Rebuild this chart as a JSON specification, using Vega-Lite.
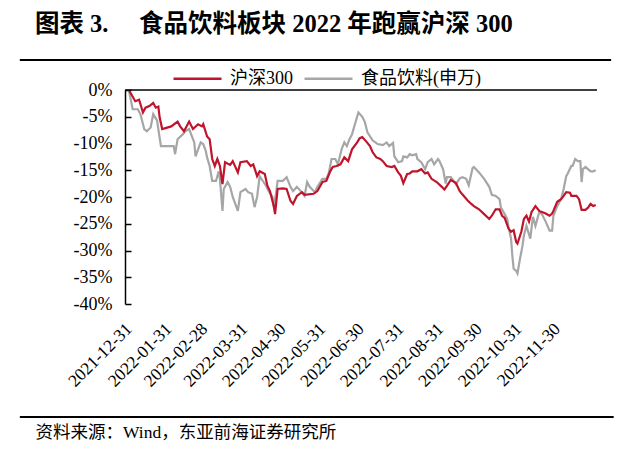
{
  "$schema": "https://vega.github.io/schema/vega-lite/v6.json",
  "width": 472,
  "height": 214,
  "autosize": {"type": "none"},
  "padding": {"left": 125, "top": 90, "right": 43, "bottom": 152},
  "background": "white",
  "config": {
    "view": {"stroke": null},
    "font": "Liberation Serif, Noto Sans CJK SC"
  },
  "title": {
    "text": "图表 3. 　食品饮料板块 2022 年跑赢沪深 300",
    "anchor": "start",
    "frame": "group",
    "dx": -90,
    "fontSize": 24.5,
    "fontWeight": "bold",
    "font": "Liberation Serif, Noto Sans CJK SC",
    "color": "black",
    "offset": 16
  },
  "resolve": {"axis": {"x": "independent", "y": "independent"}},
  "datasets": {
    "series": [
      {"d": "2021-12-31", "s": "食品饮料(申万)", "v": 0},
      {"d": "2022-01-03", "s": "食品饮料(申万)", "v": -3.6},
      {"d": "2022-01-07", "s": "食品饮料(申万)", "v": -3.6},
      {"d": "2022-01-09", "s": "食品饮料(申万)", "v": -4.5},
      {"d": "2022-01-12", "s": "食品饮料(申万)", "v": -7.3},
      {"d": "2022-01-14", "s": "食品饮料(申万)", "v": -7.7},
      {"d": "2022-01-17", "s": "食品饮料(申万)", "v": -7.0},
      {"d": "2022-01-19", "s": "食品饮料(申万)", "v": -4.5},
      {"d": "2022-01-22", "s": "食品饮料(申万)", "v": -5.7},
      {"d": "2022-01-23", "s": "食品饮料(申万)", "v": -7.3},
      {"d": "2022-01-25", "s": "食品饮料(申万)", "v": -10.5},
      {"d": "2022-01-30", "s": "食品饮料(申万)", "v": -10.5},
      {"d": "2022-02-04", "s": "食品饮料(申万)", "v": -10.5},
      {"d": "2022-02-05", "s": "食品饮料(申万)", "v": -12.0},
      {"d": "2022-02-07", "s": "食品饮料(申万)", "v": -9.2},
      {"d": "2022-02-11", "s": "食品饮料(申万)", "v": -8.3},
      {"d": "2022-02-13", "s": "食品饮料(申万)", "v": -7.7},
      {"d": "2022-02-16", "s": "食品饮料(申万)", "v": -7.3},
      {"d": "2022-02-19", "s": "食品饮料(申万)", "v": -9.2},
      {"d": "2022-02-20", "s": "食品饮料(申万)", "v": -9.8},
      {"d": "2022-02-21", "s": "食品饮料(申万)", "v": -12.4},
      {"d": "2022-02-23", "s": "食品饮料(申万)", "v": -11.1},
      {"d": "2022-02-25", "s": "食品饮料(申万)", "v": -9.8},
      {"d": "2022-02-27", "s": "食品饮料(申万)", "v": -10.1},
      {"d": "2022-03-01", "s": "食品饮料(申万)", "v": -11.4},
      {"d": "2022-03-02", "s": "食品饮料(申万)", "v": -12.6},
      {"d": "2022-03-04", "s": "食品饮料(申万)", "v": -14.2},
      {"d": "2022-03-06", "s": "食品饮料(申万)", "v": -17.0},
      {"d": "2022-03-09", "s": "食品饮料(申万)", "v": -17.0},
      {"d": "2022-03-11", "s": "食品饮料(申万)", "v": -15.2},
      {"d": "2022-03-12", "s": "食品饮料(申万)", "v": -16.6},
      {"d": "2022-03-14", "s": "食品饮料(申万)", "v": -22.6},
      {"d": "2022-03-15", "s": "食品饮料(申万)", "v": -18.5},
      {"d": "2022-03-18", "s": "食品饮料(申万)", "v": -17.2},
      {"d": "2022-03-20", "s": "食品饮料(申万)", "v": -18.1},
      {"d": "2022-03-22", "s": "食品饮料(申万)", "v": -20.0},
      {"d": "2022-03-26", "s": "食品饮料(申万)", "v": -22.6},
      {"d": "2022-03-28", "s": "食品饮料(申万)", "v": -19.1},
      {"d": "2022-04-01", "s": "食品饮料(申万)", "v": -18.5},
      {"d": "2022-04-03", "s": "食品饮料(申万)", "v": -19.1},
      {"d": "2022-04-06", "s": "食品饮料(申万)", "v": -19.4},
      {"d": "2022-04-08", "s": "食品饮料(申万)", "v": -21.9},
      {"d": "2022-04-10", "s": "食品饮料(申万)", "v": -20.0},
      {"d": "2022-04-12", "s": "食品饮料(申万)", "v": -16.1},
      {"d": "2022-04-15", "s": "食品饮料(申万)", "v": -17.2},
      {"d": "2022-04-17", "s": "食品饮料(申万)", "v": -17.9},
      {"d": "2022-04-19", "s": "食品饮料(申万)", "v": -18.9},
      {"d": "2022-04-22", "s": "食品饮料(申万)", "v": -20.0},
      {"d": "2022-04-23", "s": "食品饮料(申万)", "v": -21.9},
      {"d": "2022-04-25", "s": "食品饮料(申万)", "v": -18.9},
      {"d": "2022-04-26", "s": "食品饮料(申万)", "v": -17.0},
      {"d": "2022-04-30", "s": "食品饮料(申万)", "v": -17.0},
      {"d": "2022-05-03", "s": "食品饮料(申万)", "v": -16.3},
      {"d": "2022-05-06", "s": "食品饮料(申万)", "v": -18.1},
      {"d": "2022-05-08", "s": "食品饮料(申万)", "v": -18.9},
      {"d": "2022-05-11", "s": "食品饮料(申万)", "v": -18.1},
      {"d": "2022-05-14", "s": "食品饮料(申万)", "v": -18.9},
      {"d": "2022-05-17", "s": "食品饮料(申万)", "v": -19.8},
      {"d": "2022-05-19", "s": "食品饮料(申万)", "v": -17.2},
      {"d": "2022-05-21", "s": "食品饮料(申万)", "v": -18.1},
      {"d": "2022-05-25", "s": "食品饮料(申万)", "v": -19.1},
      {"d": "2022-05-27", "s": "食品饮料(申万)", "v": -18.1},
      {"d": "2022-05-31", "s": "食品饮料(申万)", "v": -16.6},
      {"d": "2022-06-03", "s": "食品饮料(申万)", "v": -16.6},
      {"d": "2022-06-05", "s": "食品饮料(申万)", "v": -15.4},
      {"d": "2022-06-07", "s": "食品饮料(申万)", "v": -12.9},
      {"d": "2022-06-10", "s": "食品饮料(申万)", "v": -12.9},
      {"d": "2022-06-12", "s": "食品饮料(申万)", "v": -13.9},
      {"d": "2022-06-15", "s": "食品饮料(申万)", "v": -11.0},
      {"d": "2022-06-17", "s": "食品饮料(申万)", "v": -9.8},
      {"d": "2022-06-19", "s": "食品饮料(申万)", "v": -10.5},
      {"d": "2022-06-21", "s": "食品饮料(申万)", "v": -9.2},
      {"d": "2022-06-23", "s": "食品饮料(申万)", "v": -8.3},
      {"d": "2022-06-25", "s": "食品饮料(申万)", "v": -6.6},
      {"d": "2022-06-28", "s": "食品饮料(申万)", "v": -4.2},
      {"d": "2022-07-01", "s": "食品饮料(申万)", "v": -5.0},
      {"d": "2022-07-03", "s": "食品饮料(申万)", "v": -6.0},
      {"d": "2022-07-05", "s": "食品饮料(申万)", "v": -7.9},
      {"d": "2022-07-09", "s": "食品饮料(申万)", "v": -9.4},
      {"d": "2022-07-13", "s": "食品饮料(申万)", "v": -10.1},
      {"d": "2022-07-17", "s": "食品饮料(申万)", "v": -10.3},
      {"d": "2022-07-20", "s": "食品饮料(申万)", "v": -9.8},
      {"d": "2022-07-22", "s": "食品饮料(申万)", "v": -10.5},
      {"d": "2022-07-25", "s": "食品饮料(申万)", "v": -9.9},
      {"d": "2022-07-26", "s": "食品饮料(申万)", "v": -12.4},
      {"d": "2022-07-29", "s": "食品饮料(申万)", "v": -13.5},
      {"d": "2022-08-01", "s": "食品饮料(申万)", "v": -13.3},
      {"d": "2022-08-02", "s": "食品饮料(申万)", "v": -12.4},
      {"d": "2022-08-05", "s": "食品饮料(申万)", "v": -12.6},
      {"d": "2022-08-07", "s": "食品饮料(申万)", "v": -12.0},
      {"d": "2022-08-09", "s": "食品饮料(申万)", "v": -12.2},
      {"d": "2022-08-12", "s": "食品饮料(申万)", "v": -12.0},
      {"d": "2022-08-13", "s": "食品饮料(申万)", "v": -12.9},
      {"d": "2022-08-16", "s": "食品饮料(申万)", "v": -13.5},
      {"d": "2022-08-19", "s": "食品饮料(申万)", "v": -14.8},
      {"d": "2022-08-21", "s": "食品饮料(申万)", "v": -13.5},
      {"d": "2022-08-24", "s": "食品饮料(申万)", "v": -12.9},
      {"d": "2022-08-26", "s": "食品饮料(申万)", "v": -13.9},
      {"d": "2022-08-29", "s": "食品饮料(申万)", "v": -12.9},
      {"d": "2022-08-30", "s": "食品饮料(申万)", "v": -13.2},
      {"d": "2022-09-02", "s": "食品饮料(申万)", "v": -14.8},
      {"d": "2022-09-04", "s": "食品饮料(申万)", "v": -17.5},
      {"d": "2022-09-05", "s": "食品饮料(申万)", "v": -16.3},
      {"d": "2022-09-08", "s": "食品饮料(申万)", "v": -16.3},
      {"d": "2022-09-11", "s": "食品饮料(申万)", "v": -17.2},
      {"d": "2022-09-12", "s": "食品饮料(申万)", "v": -17.6},
      {"d": "2022-09-15", "s": "食品饮料(申万)", "v": -16.5},
      {"d": "2022-09-17", "s": "食品饮料(申万)", "v": -16.3},
      {"d": "2022-09-20", "s": "食品饮料(申万)", "v": -16.6},
      {"d": "2022-09-22", "s": "食品饮料(申万)", "v": -17.8},
      {"d": "2022-09-25", "s": "食品饮料(申万)", "v": -14.6},
      {"d": "2022-09-26", "s": "食品饮料(申万)", "v": -14.4},
      {"d": "2022-09-30", "s": "食品饮料(申万)", "v": -15.4},
      {"d": "2022-10-04", "s": "食品饮料(申万)", "v": -16.6},
      {"d": "2022-10-08", "s": "食品饮料(申万)", "v": -18.1},
      {"d": "2022-10-10", "s": "食品饮料(申万)", "v": -19.6},
      {"d": "2022-10-13", "s": "食品饮料(申万)", "v": -19.8},
      {"d": "2022-10-16", "s": "食品饮料(申万)", "v": -20.4},
      {"d": "2022-10-17", "s": "食品饮料(申万)", "v": -21.9},
      {"d": "2022-10-20", "s": "食品饮料(申万)", "v": -23.2},
      {"d": "2022-10-22", "s": "食品饮料(申万)", "v": -24.1},
      {"d": "2022-10-23", "s": "食品饮料(申万)", "v": -25.6},
      {"d": "2022-10-25", "s": "食品饮料(申万)", "v": -27.8},
      {"d": "2022-10-26", "s": "食品饮料(申万)", "v": -31.0},
      {"d": "2022-10-27", "s": "食品饮料(申万)", "v": -33.4},
      {"d": "2022-10-29", "s": "食品饮料(申万)", "v": -33.8},
      {"d": "2022-10-30", "s": "食品饮料(申万)", "v": -34.3},
      {"d": "2022-11-01", "s": "食品饮料(申万)", "v": -31.5},
      {"d": "2022-11-03", "s": "食品饮料(申万)", "v": -29.0},
      {"d": "2022-11-04", "s": "食品饮料(申万)", "v": -27.2},
      {"d": "2022-11-06", "s": "食品饮料(申万)", "v": -25.4},
      {"d": "2022-11-09", "s": "食品饮料(申万)", "v": -27.8},
      {"d": "2022-11-11", "s": "食品饮料(申万)", "v": -23.7},
      {"d": "2022-11-13", "s": "食品饮料(申万)", "v": -25.4},
      {"d": "2022-11-16", "s": "食品饮料(申万)", "v": -22.8},
      {"d": "2022-11-18", "s": "食品饮料(申万)", "v": -23.2},
      {"d": "2022-11-21", "s": "食品饮料(申万)", "v": -24.6},
      {"d": "2022-11-24", "s": "食品饮料(申万)", "v": -26.3},
      {"d": "2022-11-26", "s": "食品饮料(申万)", "v": -26.3},
      {"d": "2022-11-27", "s": "食品饮料(申万)", "v": -23.5},
      {"d": "2022-11-30", "s": "食品饮料(申万)", "v": -21.7},
      {"d": "2022-12-03", "s": "食品饮料(申万)", "v": -20.4},
      {"d": "2022-12-05", "s": "食品饮料(申万)", "v": -18.5},
      {"d": "2022-12-07", "s": "食品饮料(申万)", "v": -16.1},
      {"d": "2022-12-08", "s": "食品饮料(申万)", "v": -15.7},
      {"d": "2022-12-11", "s": "食品饮料(申万)", "v": -14.2},
      {"d": "2022-12-12", "s": "食品饮料(申万)", "v": -14.2},
      {"d": "2022-12-14", "s": "食品饮料(申万)", "v": -12.9},
      {"d": "2022-12-16", "s": "食品饮料(申万)", "v": -13.3},
      {"d": "2022-12-18", "s": "食品饮料(申万)", "v": -13.3},
      {"d": "2022-12-19", "s": "食品饮料(申万)", "v": -17.2},
      {"d": "2022-12-20", "s": "食品饮料(申万)", "v": -14.8},
      {"d": "2022-12-22", "s": "食品饮料(申万)", "v": -14.4},
      {"d": "2022-12-24", "s": "食品饮料(申万)", "v": -14.8},
      {"d": "2022-12-26", "s": "食品饮料(申万)", "v": -15.2},
      {"d": "2022-12-28", "s": "食品饮料(申万)", "v": -15.2},
      {"d": "2022-12-30", "s": "食品饮料(申万)", "v": -15.0},
      {"d": "2021-12-31", "s": "沪深300", "v": 0},
      {"d": "2022-01-05", "s": "沪深300", "v": -2.1},
      {"d": "2022-01-08", "s": "沪深300", "v": -1.8},
      {"d": "2022-01-11", "s": "沪深300", "v": -4.2},
      {"d": "2022-01-13", "s": "沪深300", "v": -3.3},
      {"d": "2022-01-16", "s": "沪深300", "v": -3.0},
      {"d": "2022-01-19", "s": "沪深300", "v": -2.4},
      {"d": "2022-01-21", "s": "沪深300", "v": -3.3},
      {"d": "2022-01-23", "s": "沪深300", "v": -3.1},
      {"d": "2022-01-24", "s": "沪深300", "v": -5.1},
      {"d": "2022-01-26", "s": "沪深300", "v": -7.3},
      {"d": "2022-02-02", "s": "沪深300", "v": -6.8},
      {"d": "2022-02-07", "s": "沪深300", "v": -5.9},
      {"d": "2022-02-09", "s": "沪深300", "v": -6.8},
      {"d": "2022-02-12", "s": "沪深300", "v": -7.7},
      {"d": "2022-02-16", "s": "沪深300", "v": -5.9},
      {"d": "2022-02-19", "s": "沪深300", "v": -7.3},
      {"d": "2022-02-23", "s": "沪深300", "v": -6.4},
      {"d": "2022-02-26", "s": "沪深300", "v": -6.8},
      {"d": "2022-02-27", "s": "沪深300", "v": -6.4},
      {"d": "2022-03-02", "s": "沪深300", "v": -8.7},
      {"d": "2022-03-04", "s": "沪深300", "v": -9.2},
      {"d": "2022-03-06", "s": "沪深300", "v": -12.9},
      {"d": "2022-03-08", "s": "沪深300", "v": -14.2},
      {"d": "2022-03-10", "s": "沪深300", "v": -12.9},
      {"d": "2022-03-12", "s": "沪深300", "v": -14.2},
      {"d": "2022-03-14", "s": "沪深300", "v": -17.6},
      {"d": "2022-03-16", "s": "沪深300", "v": -13.5},
      {"d": "2022-03-20", "s": "沪深300", "v": -14.0},
      {"d": "2022-03-22", "s": "沪深300", "v": -13.3},
      {"d": "2022-03-26", "s": "沪深300", "v": -15.4},
      {"d": "2022-03-28", "s": "沪深300", "v": -13.5},
      {"d": "2022-04-02", "s": "沪深300", "v": -13.3},
      {"d": "2022-04-05", "s": "沪深300", "v": -14.2},
      {"d": "2022-04-07", "s": "沪深300", "v": -13.9},
      {"d": "2022-04-10", "s": "沪深300", "v": -16.1},
      {"d": "2022-04-12", "s": "沪深300", "v": -15.2},
      {"d": "2022-04-16", "s": "沪深300", "v": -15.7},
      {"d": "2022-04-18", "s": "沪深300", "v": -17.9},
      {"d": "2022-04-20", "s": "沪深300", "v": -18.9},
      {"d": "2022-04-23", "s": "沪深300", "v": -21.7},
      {"d": "2022-04-24", "s": "沪深300", "v": -23.2},
      {"d": "2022-04-26", "s": "沪深300", "v": -18.5},
      {"d": "2022-04-30", "s": "沪深300", "v": -18.4},
      {"d": "2022-05-03", "s": "沪深300", "v": -18.5},
      {"d": "2022-05-06", "s": "沪深300", "v": -20.7},
      {"d": "2022-05-08", "s": "沪深300", "v": -21.3},
      {"d": "2022-05-11", "s": "沪深300", "v": -19.8},
      {"d": "2022-05-15", "s": "沪深300", "v": -19.1},
      {"d": "2022-05-17", "s": "沪深300", "v": -19.6},
      {"d": "2022-05-24", "s": "沪深300", "v": -19.4},
      {"d": "2022-05-27", "s": "沪深300", "v": -18.9},
      {"d": "2022-05-31", "s": "沪深300", "v": -17.2},
      {"d": "2022-06-03", "s": "沪深300", "v": -17.0},
      {"d": "2022-06-06", "s": "沪深300", "v": -15.2},
      {"d": "2022-06-08", "s": "沪深300", "v": -14.4},
      {"d": "2022-06-11", "s": "沪深300", "v": -14.2},
      {"d": "2022-06-14", "s": "沪深300", "v": -13.9},
      {"d": "2022-06-17", "s": "沪深300", "v": -12.6},
      {"d": "2022-06-20", "s": "沪深300", "v": -13.3},
      {"d": "2022-06-23", "s": "沪深300", "v": -11.1},
      {"d": "2022-06-27", "s": "沪深300", "v": -9.8},
      {"d": "2022-06-29", "s": "沪深300", "v": -9.0},
      {"d": "2022-07-01", "s": "沪深300", "v": -8.8},
      {"d": "2022-07-04", "s": "沪深300", "v": -9.6},
      {"d": "2022-07-07", "s": "沪深300", "v": -10.5},
      {"d": "2022-07-09", "s": "沪深300", "v": -11.6},
      {"d": "2022-07-12", "s": "沪深300", "v": -12.6},
      {"d": "2022-07-15", "s": "沪深300", "v": -12.9},
      {"d": "2022-07-17", "s": "沪深300", "v": -13.3},
      {"d": "2022-07-20", "s": "沪深300", "v": -14.2},
      {"d": "2022-07-24", "s": "沪深300", "v": -14.4},
      {"d": "2022-07-26", "s": "沪深300", "v": -14.2},
      {"d": "2022-07-29", "s": "沪深300", "v": -15.4},
      {"d": "2022-07-31", "s": "沪深300", "v": -16.0},
      {"d": "2022-08-02", "s": "沪深300", "v": -17.4},
      {"d": "2022-08-05", "s": "沪深300", "v": -15.7},
      {"d": "2022-08-07", "s": "沪深300", "v": -15.6},
      {"d": "2022-08-09", "s": "沪深300", "v": -15.2},
      {"d": "2022-08-13", "s": "沪深300", "v": -15.2},
      {"d": "2022-08-16", "s": "沪深300", "v": -14.8},
      {"d": "2022-08-19", "s": "沪深300", "v": -15.6},
      {"d": "2022-08-21", "s": "沪深300", "v": -15.4},
      {"d": "2022-08-24", "s": "沪深300", "v": -16.6},
      {"d": "2022-08-28", "s": "沪深300", "v": -17.2},
      {"d": "2022-09-01", "s": "沪深300", "v": -18.1},
      {"d": "2022-09-03", "s": "沪深300", "v": -18.6},
      {"d": "2022-09-05", "s": "沪深300", "v": -17.9},
      {"d": "2022-09-08", "s": "沪深300", "v": -16.8},
      {"d": "2022-09-12", "s": "沪深300", "v": -17.4},
      {"d": "2022-09-15", "s": "沪深300", "v": -18.9},
      {"d": "2022-09-17", "s": "沪深300", "v": -19.5},
      {"d": "2022-09-21", "s": "沪深300", "v": -20.6},
      {"d": "2022-09-24", "s": "沪深300", "v": -21.3},
      {"d": "2022-09-26", "s": "沪深300", "v": -21.7},
      {"d": "2022-09-30", "s": "沪深300", "v": -22.3},
      {"d": "2022-10-04", "s": "沪深300", "v": -23.2},
      {"d": "2022-10-08", "s": "沪深300", "v": -24.1},
      {"d": "2022-10-10", "s": "沪深300", "v": -23.5},
      {"d": "2022-10-13", "s": "沪深300", "v": -22.3},
      {"d": "2022-10-16", "s": "沪深300", "v": -22.3},
      {"d": "2022-10-18", "s": "沪深300", "v": -23.5},
      {"d": "2022-10-20", "s": "沪深300", "v": -23.9},
      {"d": "2022-10-23", "s": "沪深300", "v": -25.9},
      {"d": "2022-10-25", "s": "沪深300", "v": -26.5},
      {"d": "2022-10-27", "s": "沪深300", "v": -26.2},
      {"d": "2022-10-29", "s": "沪深300", "v": -28.4},
      {"d": "2022-10-30", "s": "沪深300", "v": -28.7},
      {"d": "2022-11-02", "s": "沪深300", "v": -26.5},
      {"d": "2022-11-04", "s": "沪深300", "v": -24.1},
      {"d": "2022-11-06", "s": "沪深300", "v": -23.5},
      {"d": "2022-11-08", "s": "沪深300", "v": -24.6},
      {"d": "2022-11-10", "s": "沪深300", "v": -22.8},
      {"d": "2022-11-13", "s": "沪深300", "v": -21.7},
      {"d": "2022-11-16", "s": "沪深300", "v": -22.6},
      {"d": "2022-11-18", "s": "沪深300", "v": -22.8},
      {"d": "2022-11-21", "s": "沪深300", "v": -23.1},
      {"d": "2022-11-24", "s": "沪深300", "v": -23.5},
      {"d": "2022-11-26", "s": "沪深300", "v": -23.1},
      {"d": "2022-11-27", "s": "沪深300", "v": -22.6},
      {"d": "2022-11-30", "s": "沪深300", "v": -20.9},
      {"d": "2022-12-03", "s": "沪深300", "v": -20.4},
      {"d": "2022-12-05", "s": "沪深300", "v": -19.8},
      {"d": "2022-12-07", "s": "沪深300", "v": -19.1},
      {"d": "2022-12-10", "s": "沪深300", "v": -19.2},
      {"d": "2022-12-11", "s": "沪深300", "v": -19.8},
      {"d": "2022-12-15", "s": "沪深300", "v": -19.8},
      {"d": "2022-12-17", "s": "沪深300", "v": -20.4},
      {"d": "2022-12-19", "s": "沪深300", "v": -22.4},
      {"d": "2022-12-22", "s": "沪深300", "v": -22.4},
      {"d": "2022-12-24", "s": "沪深300", "v": -22.0},
      {"d": "2022-12-26", "s": "沪深300", "v": -21.3},
      {"d": "2022-12-28", "s": "沪深300", "v": -21.7},
      {"d": "2022-12-30", "s": "沪深300", "v": -21.5}
    ],
    "one": [{}]
  },
  "layer": [
    {
      "data": {"name": "series"},
      "mark": {"type": "line", "strokeWidth": 2.2},
      "encoding": {
        "x": {
          "field": "d",
          "type": "temporal",
          "scale": {
            "type": "utc",
            "domain": [
              {"year": 2021, "month": 12, "date": 28, "utc": true},
              {"year": 2022, "month": 12, "date": 31, "utc": true}
            ],
            "nice": false
          },
          "axis": {
            "values": [
              {"year": 2021, "month": 12, "date": 31, "utc": true},
              {"year": 2022, "month": 1, "date": 31, "utc": true},
              {"year": 2022, "month": 2, "date": 28, "utc": true},
              {"year": 2022, "month": 3, "date": 31, "utc": true},
              {"year": 2022, "month": 4, "date": 30, "utc": true},
              {"year": 2022, "month": 5, "date": 31, "utc": true},
              {"year": 2022, "month": 6, "date": 30, "utc": true},
              {"year": 2022, "month": 7, "date": 31, "utc": true},
              {"year": 2022, "month": 8, "date": 31, "utc": true},
              {"year": 2022, "month": 9, "date": 30, "utc": true},
              {"year": 2022, "month": 10, "date": 31, "utc": true},
              {"year": 2022, "month": 11, "date": 30, "utc": true}
            ],
            "labelExpr": "utcFormat(datum.value, '%Y-%m-%d')",
            "domain": false,
            "ticks": false,
            "grid": false,
            "labelAngle": -45,
            "labelAlign": "right",
            "labelBaseline": "middle",
            "labelPadding": 22,
            "labelFontSize": 17.5,
            "labelColor": "black",
            "labelOverlap": false,
            "labelBound": false,
            "labelFlush": false,
            "title": "资料来源：Wind，东亚前海证券研究所",
            "titleFontSize": 17.5,
            "titleFontWeight": "normal",
            "titleColor": "black",
            "titleAlign": "left",
            "titleAnchor": "start",
            "titleBaseline": "alphabetic",
            "titleX": -90,
            "titleY": 133
          }
        },
        "y": {
          "field": "v",
          "type": "quantitative",
          "scale": {"domain": [-40, 0], "nice": false},
          "axis": {
            "values": [0, -5, -10, -15, -20, -25, -30, -35, -40],
            "labelExpr": "datum.value + '%'",
            "labelOverlap": false,
            "grid": false,
            "domainColor": "black",
            "domainWidth": 1.5,
            "tickColor": "black",
            "tickWidth": 1.5,
            "tickSize": -6,
            "labelPadding": 19,
            "labelFontSize": 18,
            "labelColor": "black",
            "title": null
          }
        },
        "color": {
          "field": "s",
          "type": "nominal",
          "scale": {
            "domain": ["沪深300", "食品饮料(申万)"],
            "range": ["#C0142C", "#A6A6A6"]
          },
          "legend": {
            "orient": "none",
            "legendX": 47,
            "legendY": -37,
            "direction": "horizontal",
            "title": null,
            "symbolType": "stroke",
            "symbolSize": 2304,
            "symbolStrokeWidth": 2.5,
            "labelFontSize": 18,
            "labelColor": "black",
            "labelOffset": 7,
            "columnPadding": 6
          }
        }
      }
    },
    {
      "data": {"name": "one"},
      "mark": {"type": "rule", "color": "black", "strokeWidth": 1.5},
      "encoding": {"y": {"datum": 0, "axis": null}}
    },
    {
      "data": {"name": "one"},
      "mark": {"type": "rule", "color": "black", "strokeWidth": 2},
      "encoding": {
        "x": {"datum": {"year": 2021, "month": 10, "date": 7, "utc": true}, "type": "temporal", "axis": null},
        "x2": {"datum": {"year": 2023, "month": 1, "date": 11, "utc": true}},
        "y": {"datum": 5.6, "axis": null}
      }
    },
    {
      "data": {"name": "one"},
      "mark": {"type": "rule", "color": "black", "strokeWidth": 2},
      "encoding": {
        "x": {"datum": {"year": 2021, "month": 10, "date": 7, "utc": true}, "type": "temporal", "axis": null},
        "x2": {"datum": {"year": 2023, "month": 1, "date": 13, "utc": true}},
        "y": {"datum": -61.1, "axis": null}
      }
    }
  ]
}
